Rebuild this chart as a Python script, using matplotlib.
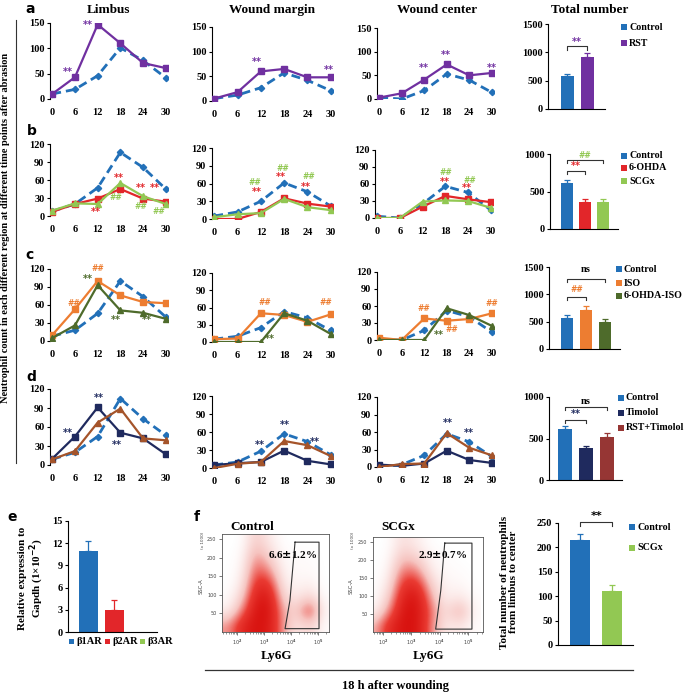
import matplotlib
matplotlib.use('Agg')
import matplotlib.pyplot as plt
import numpy as np
from matplotlib.colors import LinearSegmentedColormap
from matplotlib.patches import Rectangle

#--------------------- DATA ---------------------#

hours = [0, 6, 12, 18, 24, 30]

# row a : Control vs RST
a_limbus_ctrl = [10, 19, 46, 101, 76, 42]
a_limbus_rst = [10, 43, 147, 110, 71, 61]
a_margin_ctrl = [5, 12, 27, 57, 42, 21]
a_margin_rst = [5, 18, 60, 65, 48, 48]
a_center_ctrl = [3, 0, 18, 53, 40, 14]
a_center_rst = [3, 12, 41, 73, 50, 55]
a_groups = ['Control', 'RST']
a_total = [580, 920]
a_total_err = [40, 60]

# row b : Control vs 6-OHDA vs SCGx
b_limbus_ctrl = [8, 20, 47, 106, 81, 45]
b_limbus_ohda = [7, 20, 29, 45, 29, 24]
b_limbus_scgx = [9, 21, 20, 55, 33, 20]
b_margin_ctrl = [5, 12, 30, 61, 46, 22]
b_margin_ohda = [0, 0, 12, 35, 26, 21]
b_margin_scgx = [3, 8, 10, 34, 20, 15]
b_center_ctrl = [3, 0, 25, 56, 45, 14]
b_center_ohda = [0, 0, 20, 39, 33, 28]
b_center_scgx = [0, 0, 29, 31, 30, 18]
b_groups = ['Control', '6-OHDA', 'SCGx']
b_total = [620, 365, 360]
b_total_err = [35, 35, 40]

# row c : Control vs ISO vs 6-OHDA-ISO
c_limbus_ctrl = [8, 18, 46, 100, 74, 40]
c_limbus_iso = [10, 53, 100, 76, 65, 63]
c_limbus_ohiso = [5, 26, 93, 51, 47, 37]
c_margin_ctrl = [5, 10, 25, 53, 42, 20]
c_margin_iso = [5, 6, 50, 47, 35, 48]
c_margin_ohiso = [0, 0, 0, 50, 37, 14]
c_center_ctrl = [0, 0, 17, 52, 41, 14]
c_center_iso = [4, 0, 38, 34, 37, 47]
c_center_ohiso = [0, 0, 0, 56, 44, 25]
c_groups = ['Control', 'ISO', '6-OHDA-ISO']
c_total = [575, 720, 490]
c_total_err = [40, 60, 50]

# row d : Control vs Timolol vs RST+Timolol
d_limbus_ctrl = [9, 20, 45, 105, 73, 47]
d_limbus_tim = [10, 45, 91, 51, 42, 17]
d_limbus_rsttim = [9, 22, 67, 89, 42, 39]
d_margin_ctrl = [5, 10, 28, 57, 44, 22]
d_margin_tim = [5, 8, 10, 29, 12, 6]
d_margin_rsttim = [0, 7, 10, 45, 38, 20]
d_center_ctrl = [0, 4, 20, 57, 43, 18]
d_center_tim = [4, 2, 6, 28, 12, 7]
d_center_rsttim = [0, 5, 6, 58, 33, 20]
d_groups = ['Control', 'Timolol', 'RST+Timolol']
d_total = [610, 380, 515]
d_total_err = [35, 30, 50]

# panel e : receptor expression
receptors = ['β1AR', 'β2AR', 'β3AR']
expr = [11, 3, 0]
expr_err = [1.3, 1.3, 0]

# panel f : flow cytometry (coarse density, log10 Ly6G x SSC-A)
ctrl_density = [
    [0.45, 0.85, 1.00, 0.95, 0.45, 0.12, 0.25, 0.02],
    [0.08, 0.50, 1.00, 1.00, 0.40, 0.25, 0.75, 0.05],
    [0.02, 0.25, 0.90, 0.95, 0.25, 0.10, 0.25, 0.02],
    [0.00, 0.12, 0.75, 0.75, 0.12, 0.05, 0.08, 0.00],
    [0.00, 0.06, 0.60, 0.45, 0.06, 0.03, 0.03, 0.00],
    [0.00, 0.03, 0.45, 0.25, 0.03, 0.02, 0.02, 0.00],
    [0.00, 0.00, 0.30, 0.12, 0.00, 0.00, 0.00, 0.00],
]
scgx_density = [
    [0.35, 0.80, 1.00, 1.00, 0.50, 0.10, 0.15, 0.02],
    [0.05, 0.45, 1.00, 1.00, 0.55, 0.15, 0.45, 0.03],
    [0.00, 0.25, 0.90, 1.00, 0.40, 0.08, 0.15, 0.02],
    [0.00, 0.12, 0.75, 0.80, 0.25, 0.05, 0.05, 0.00],
    [0.00, 0.05, 0.55, 0.50, 0.10, 0.03, 0.02, 0.00],
    [0.00, 0.02, 0.35, 0.25, 0.05, 0.02, 0.00, 0.00],
    [0.00, 0.00, 0.20, 0.10, 0.00, 0.00, 0.00, 0.00],
]
ctrl_gate_x = [4.15, 5.04, 5.04, 3.78, 3.96, 4.15]
ctrl_gate_y = [242, 242, 9, 9, 85, 242]
scgx_gate_x = [4.18, 5.14, 5.14, 3.86, 4.04, 4.18]
scgx_gate_y = [247, 247, 8, 8, 115, 247]
f_groups = ['Control', 'SCGx']
f_total = [215, 110]
f_total_err = [13, 12]

#--------------------- STYLE ---------------------#

CTRL = '#2270b8'
RST = '#7030a0'
OHDA = '#e2262a'
SCGX = '#92c853'
ISO = '#ed7d31'
OHISO = '#4e6b2b'
TIM = '#1f2a5e'
RSTTIM = '#a5542a'
RSTTIM_BAR = '#963634'
STAR = 'DejaVu Sans'

plt.rcParams['font.family'] = 'Liberation Serif'
plt.rcParams['font.weight'] = 'bold'

W, H = 685, 693
fig = plt.figure(figsize=(W / 100, H / 100), dpi=100)


def px_axes(l, t, r, b):
    return fig.add_axes([l / W, 1 - b / H, (r - l) / W, (b - t) / H])


def ftext(x, y, s, **kw):
    kw.setdefault('ha', 'center')
    kw.setdefault('va', 'center')
    return fig.text(x / W, 1 - y / H, s, **kw)


def fsquare(x, y, c, size=6):
    # small filled square, x = left edge, y = vertical centre (pixels)
    fig.add_artist(Rectangle((x / W, 1 - (y + size / 2) / H), size / W, size / H,
                             transform=fig.transFigure, color=c, lw=0))


def line_panel(box, ymax, yticks, series, notes):
    ax = px_axes(*box)
    for vals, color, marker in series:
        if marker == 'D':
            ax.plot(hours, vals, color=color, lw=2.0, ls=(0, (3.2, 1.8)),
                    marker='D', ms=3.2, zorder=2)
        else:
            ax.plot(hours, vals, color=color, lw=1.6, marker=marker, ms=5,
                    zorder=3)
    ax.set_xlim(-0.6, 30.6)
    ax.set_ylim(0, ymax)
    ax.set_xticks(hours)
    ax.set_yticks(yticks)
    for s in ['top', 'right', 'bottom']:
        ax.spines[s].set_visible(False)
    ax.spines['left'].set_linewidth(0.8)
    ax.tick_params(axis='x', length=0, pad=6.5, labelsize=7.5)
    ax.tick_params(axis='y', length=2, width=0.8, pad=2, labelsize=7.5)
    for x, y, s, c in notes:
        fs = 7 if s == '**' else 5.5
        ax.text(x, y, s, color=c, fontsize=fs, family=STAR, ha='center',
                va='center', clip_on=False)
    return ax


def bar_panel(box, xlim, ymax, yticks, vals, errs, colors, width):
    ax = px_axes(*box)
    x = np.arange(len(vals))
    ax.bar(x, vals, width, color=colors, zorder=2)
    for xi, v, e, c in zip(x, vals, errs, colors):
        if e > 0:
            ax.errorbar(xi, v, yerr=[[0], [e]], color=c, capsize=2.5,
                        elinewidth=0.9, capthick=0.9, zorder=3)
    ax.set_xlim(*xlim)
    ax.set_ylim(0, ymax)
    ax.set_xticks([])
    ax.set_yticks(yticks)
    for s in ['top', 'right']:
        ax.spines[s].set_visible(False)
    ax.spines['left'].set_linewidth(0.8)
    ax.spines['bottom'].set_linewidth(0.8)
    ax.tick_params(axis='y', length=2, width=0.8, pad=2, labelsize=7.5)
    return ax


def bracket(ax, x0, x1, y, h, text, color, ty, fs=7, fam=STAR):
    ax.plot([x0, x0, x1, x1], [y - h, y, y, y - h], color='#333333', lw=0.8,
            clip_on=False)
    ax.text((x0 + x1) / 2, ty, text, color=color, fontsize=fs, family=fam,
            ha='center', va='center', clip_on=False)


def legend_px(x, ys, labels, colors):
    for y, lab, c in zip(ys, labels, colors):
        fsquare(x, y, c)
        ftext(x + 8, y, lab, fontsize=7.2, ha='left')


#--------------------- TITLES ---------------------#

ftext(108, 10, 'Limbus', fontsize=9.5)
ftext(272, 10, 'Wound margin', fontsize=9.5)
ftext(437, 10, 'Wound center', fontsize=9.5)
ftext(590, 10, 'Total number', fontsize=9.5)
for lab, x, y in [('a', 30, 9), ('b', 32, 131), ('c', 29, 255), ('d', 31, 377),
                  ('e', 12, 517), ('f', 197, 517)]:
    ftext(x, y, lab, fontsize=10, family='DejaVu Sans')

ftext(6, 228, 'Neutrophil count in each different region at different time points after abrasion',
      rotation=90, fontsize=7.5)
fig.add_artist(plt.Line2D([16 / W, 16 / W], [1 - 20 / H, 1 - 463 / H], color='#333333', lw=0.8))

#--------------------- ROW a ---------------------#

line_panel((50, 23, 168, 99), 150, [0, 50, 100, 150],
           [(a_limbus_ctrl, CTRL, 'D'), (a_limbus_rst, RST, 's')],
           [(4, 53, '**', RST), (9.3, 146, '**', RST)])
line_panel((212, 27, 333, 101), 150, [0, 50, 100, 150],
           [(a_margin_ctrl, CTRL, 'D'), (a_margin_rst, RST, 's')],
           [(11, 79, '**', RST), (29.5, 63, '**', RST)])
line_panel((377, 28, 494, 99), 150, [0, 50, 100, 150],
           [(a_center_ctrl, CTRL, 'D'), (a_center_rst, RST, 's')],
           [(12, 65, '**', RST), (17.7, 93, '**', RST), (30, 65, '**', RST)])
ax = bar_panel((548, 24, 605, 109), (-0.95, 1.9), 1500, [0, 500, 1000, 1500],
               a_total, a_total_err, [CTRL, RST], 0.65)
bracket(ax, 0, 1, 1110, 60, '**', RST, 1190)
legend_px(621, [27, 43], a_groups, [CTRL, RST])

#--------------------- ROW b ---------------------#

line_panel((50, 144, 168, 216), 120, [0, 30, 60, 90, 120],
           [(b_limbus_ctrl, CTRL, 'D'), (b_limbus_ohda, OHDA, 's'), (b_limbus_scgx, SCGX, '^')],
           [(11.5, 6, '**', OHDA), (17.7, 64, '**', OHDA), (16.7, 31, '##', SCGX),
            (23.3, 47, '**', OHDA), (27, 47, '**', OHDA), (23.3, 16, '##', SCGX),
            (28.3, 7, '##', SCGX)])
line_panel((212, 148, 333, 219), 120, [0, 30, 60, 90, 120],
           [(b_margin_ctrl, CTRL, 'D'), (b_margin_ohda, OHDA, 's'), (b_margin_scgx, SCGX, '^')],
           [(10.4, 61, '##', SCGX), (11, 46, '**', OHDA), (17.8, 85, '##', SCGX),
            (17.2, 71, '**', OHDA), (24.3, 71, '##', SCGX), (23.5, 54, '**', OHDA)])
line_panel((375, 150, 493, 218), 120, [0, 30, 60, 90, 120],
           [(b_center_ctrl, CTRL, 'D'), (b_center_ohda, OHDA, 's'), (b_center_scgx, SCGX, '^')],
           [(18.1, 81, '##', SCGX), (17.8, 63, '**', OHDA), (24.6, 67, '##', SCGX),
            (23.8, 53, '**', OHDA)])
ax = bar_panel((550, 154, 618, 229), (-0.94, 2.83), 1000, [0, 500, 1000],
               b_total, b_total_err, [CTRL, OHDA, SCGX], 0.65)
bracket(ax, 0, 2, 920, 40, '##', SCGX, 985, fs=5.5)
bracket(ax, 0, 1, 773, 40, '**', OHDA, 840)
legend_px(621, [156, 168, 181], b_groups, [CTRL, OHDA, SCGX])

#--------------------- ROW c ---------------------#

line_panel((50, 269, 168, 341), 120, [0, 30, 60, 90, 120],
           [(c_limbus_ctrl, CTRL, 'D'), (c_limbus_iso, ISO, 's'), (c_limbus_ohiso, OHISO, '^')],
           [(5.6, 63, '##', ISO), (12, 121, '##', ISO), (9.3, 104, '**', OHISO),
            (16.7, 35, '**', OHISO), (25, 35, '**', OHISO)])
line_panel((212, 273, 333, 342), 120, [0, 30, 60, 90, 120],
           [(c_margin_ctrl, CTRL, 'D'), (c_margin_iso, ISO, 's'), (c_margin_ohiso, OHISO, '^')],
           [(13, 68, '##', ISO), (14.4, 5, '**', OHISO), (28.7, 68, '##', ISO)])
line_panel((377, 272, 494, 340), 120, [0, 30, 60, 90, 120],
           [(c_center_ctrl, CTRL, 'D'), (c_center_iso, ISO, 's'), (c_center_ohiso, OHISO, '^')],
           [(12, 55, '##', ISO), (15.8, 9, '**', OHISO), (19.4, 18, '##', ISO),
            (30, 65, '##', ISO)])
ax = bar_panel((549, 267, 620, 349), (-0.95, 2.79), 1500, [0, 500, 1000, 1500],
               c_total, c_total_err, [CTRL, ISO, OHISO], 0.65)
bracket(ax, 0, 2, 1280, 60, 'ns', 'black', 1460, fs=7.5, fam='Liberation Serif')
bracket(ax, 0, 1, 950, 60, '##', ISO, 1080, fs=5.5)
legend_px(616, [269, 283, 296], c_groups, [CTRL, ISO, OHISO])

#--------------------- ROW d ---------------------#

line_panel((50, 389, 168, 465), 120, [0, 30, 60, 90, 120],
           [(d_limbus_ctrl, CTRL, 'D'), (d_limbus_tim, TIM, 's'), (d_limbus_rsttim, RSTTIM, '^')],
           [(4, 50, '**', TIM), (12.2, 106, '**', TIM), (17, 32, '**', TIM)])
line_panel((212, 396, 333, 468), 120, [0, 30, 60, 90, 120],
           [(d_margin_ctrl, CTRL, 'D'), (d_margin_tim, TIM, 's'), (d_margin_rsttim, RSTTIM, '^')],
           [(11.7, 38, '**', TIM), (18.3, 72, '**', TIM), (26, 43, '**', TIM)])
line_panel((377, 397, 494, 467), 120, [0, 30, 60, 90, 120],
           [(d_center_ctrl, CTRL, 'D'), (d_center_tim, TIM, 's'), (d_center_rsttim, RSTTIM, '^')],
           [(18.4, 75, '**', TIM), (24, 58, '**', TIM)])
ax = bar_panel((549, 397, 622, 480), (-0.76, 2.72), 1000, [0, 500, 1000],
               d_total, d_total_err, [CTRL, TIM, RSTTIM_BAR], 0.67)
bracket(ax, 0, 2, 880, 40, 'ns', 'black', 945, fs=7.5, fam='Liberation Serif')
bracket(ax, 0, 1, 723, 40, '**', TIM, 790)
legend_px(618, [398, 413, 428], d_groups, [CTRL, TIM, RSTTIM_BAR])

#--------------------- PANEL e ---------------------#

ax = bar_panel((68, 521, 157, 632), (-0.77, 2.65), 15, [0, 3, 6, 9, 12, 15],
               expr, expr_err, [CTRL, OHDA, SCGX], 0.73)
ftext(32, 578, 'Relative expression to\nGapdh (1×10$^{-2}$)', rotation=90,
      fontsize=8, linespacing=1.1)
for x, lab, c in zip([69, 105, 140], receptors, [CTRL, OHDA, SCGX]):
    fsquare(x, 641, c, size=5)
    ftext(x + 7, 641, lab, fontsize=7.5, ha='left')

#--------------------- PANEL f ---------------------#

flow_cmap = LinearSegmentedColormap.from_list(
    'flow', ['white', '#f6c4c0', '#ea3b33', '#d8120f'])


def flow_panel(box, density, xlim, ylim, gate_x, gate_y, label, label_xy):
    ax = px_axes(*box)
    ax.imshow(np.array(density), extent=(1.45, 5.45, 0, 262), origin='lower',
              cmap=flow_cmap, vmin=0, vmax=1, interpolation='bicubic',
              aspect='auto', zorder=1)
    ax.plot(gate_x, gate_y, color='#333333', lw=0.8, zorder=3)
    ax.text(*label_xy, label, fontsize=8, ha='center', va='center', zorder=4)
    ax.set_xlim(*xlim)
    ax.set_ylim(*ylim)
    ax.set_xticks([2, 3, 4, 5])
    ax.set_xticklabels(['10$^2$', '10$^3$', '10$^4$', '10$^5$'])
    ax.set_xticks([d + np.log10(k) for d in range(1, 6) for k in range(2, 10)
                   if xlim[0] < d + np.log10(k) < xlim[1]], minor=True)
    ax.set_yticks([50, 100, 150, 200, 250])
    for lab in ax.get_xticklabels() + ax.get_yticklabels():
        lab.set_family('DejaVu Sans')
        lab.set_fontweight('normal')
    ax.tick_params(labelsize=3.5, length=2.5, width=0.5, pad=1.5, colors='#444444')
    ax.tick_params(which='minor', length=1.5, width=0.4, colors='#444444')
    for s in ax.spines.values():
        s.set_linewidth(0.6)
        s.set_color('#555555')
    return ax


flow_panel((222, 534, 329, 632), ctrl_density, (1.44, 5.41), (0, 264),
           ctrl_gate_x, ctrl_gate_y, '6.6$\\pm$1.2%', (4.05, 210))
flow_panel((373, 537, 483, 632), scgx_density, (1.65, 5.53), (0, 264),
           scgx_gate_x, scgx_gate_y, '2.9$\\pm$0.7%', (4.12, 214))
ftext(252, 527, 'Control', fontsize=9.5)
ftext(398, 527, 'SCGx', fontsize=9.5)
ftext(277, 656, 'Ly6G', fontsize=9.5)
ftext(429, 656, 'Ly6G', fontsize=9.5)
for x in [201, 351]:
    ftext(x, 586, 'SSC-A', rotation=90, fontsize=3.8, family='DejaVu Sans',
          weight='normal', color='#444444')
    ftext(x + 2, 540, '(x 1000)', rotation=90, fontsize=3, family='DejaVu Sans',
          weight='normal', color='#444444')

fig.add_artist(plt.Line2D([205 / W, 633 / W], [1 - 670 / H, 1 - 670 / H],
                          color='#333333', lw=0.9))
ftext(395, 686, '18 h after wounding', fontsize=9)

ax = bar_panel((558, 523, 633, 645), (-0.69, 1.65), 250, [0, 50, 100, 150, 200, 250],
               f_total, f_total_err, [CTRL, SCGX], 0.63)
bracket(ax, 0, 1, 252, 8, '**', 'black', 264, fs=8)
ftext(509, 582, 'Total number of neutrophils\nfrom limbus to center', rotation=90,
      fontsize=8, linespacing=1.1)
legend_px(629, [527, 548], f_groups, [CTRL, SCGX])

fig.savefig('out.png', dpi=100, facecolor='white')
